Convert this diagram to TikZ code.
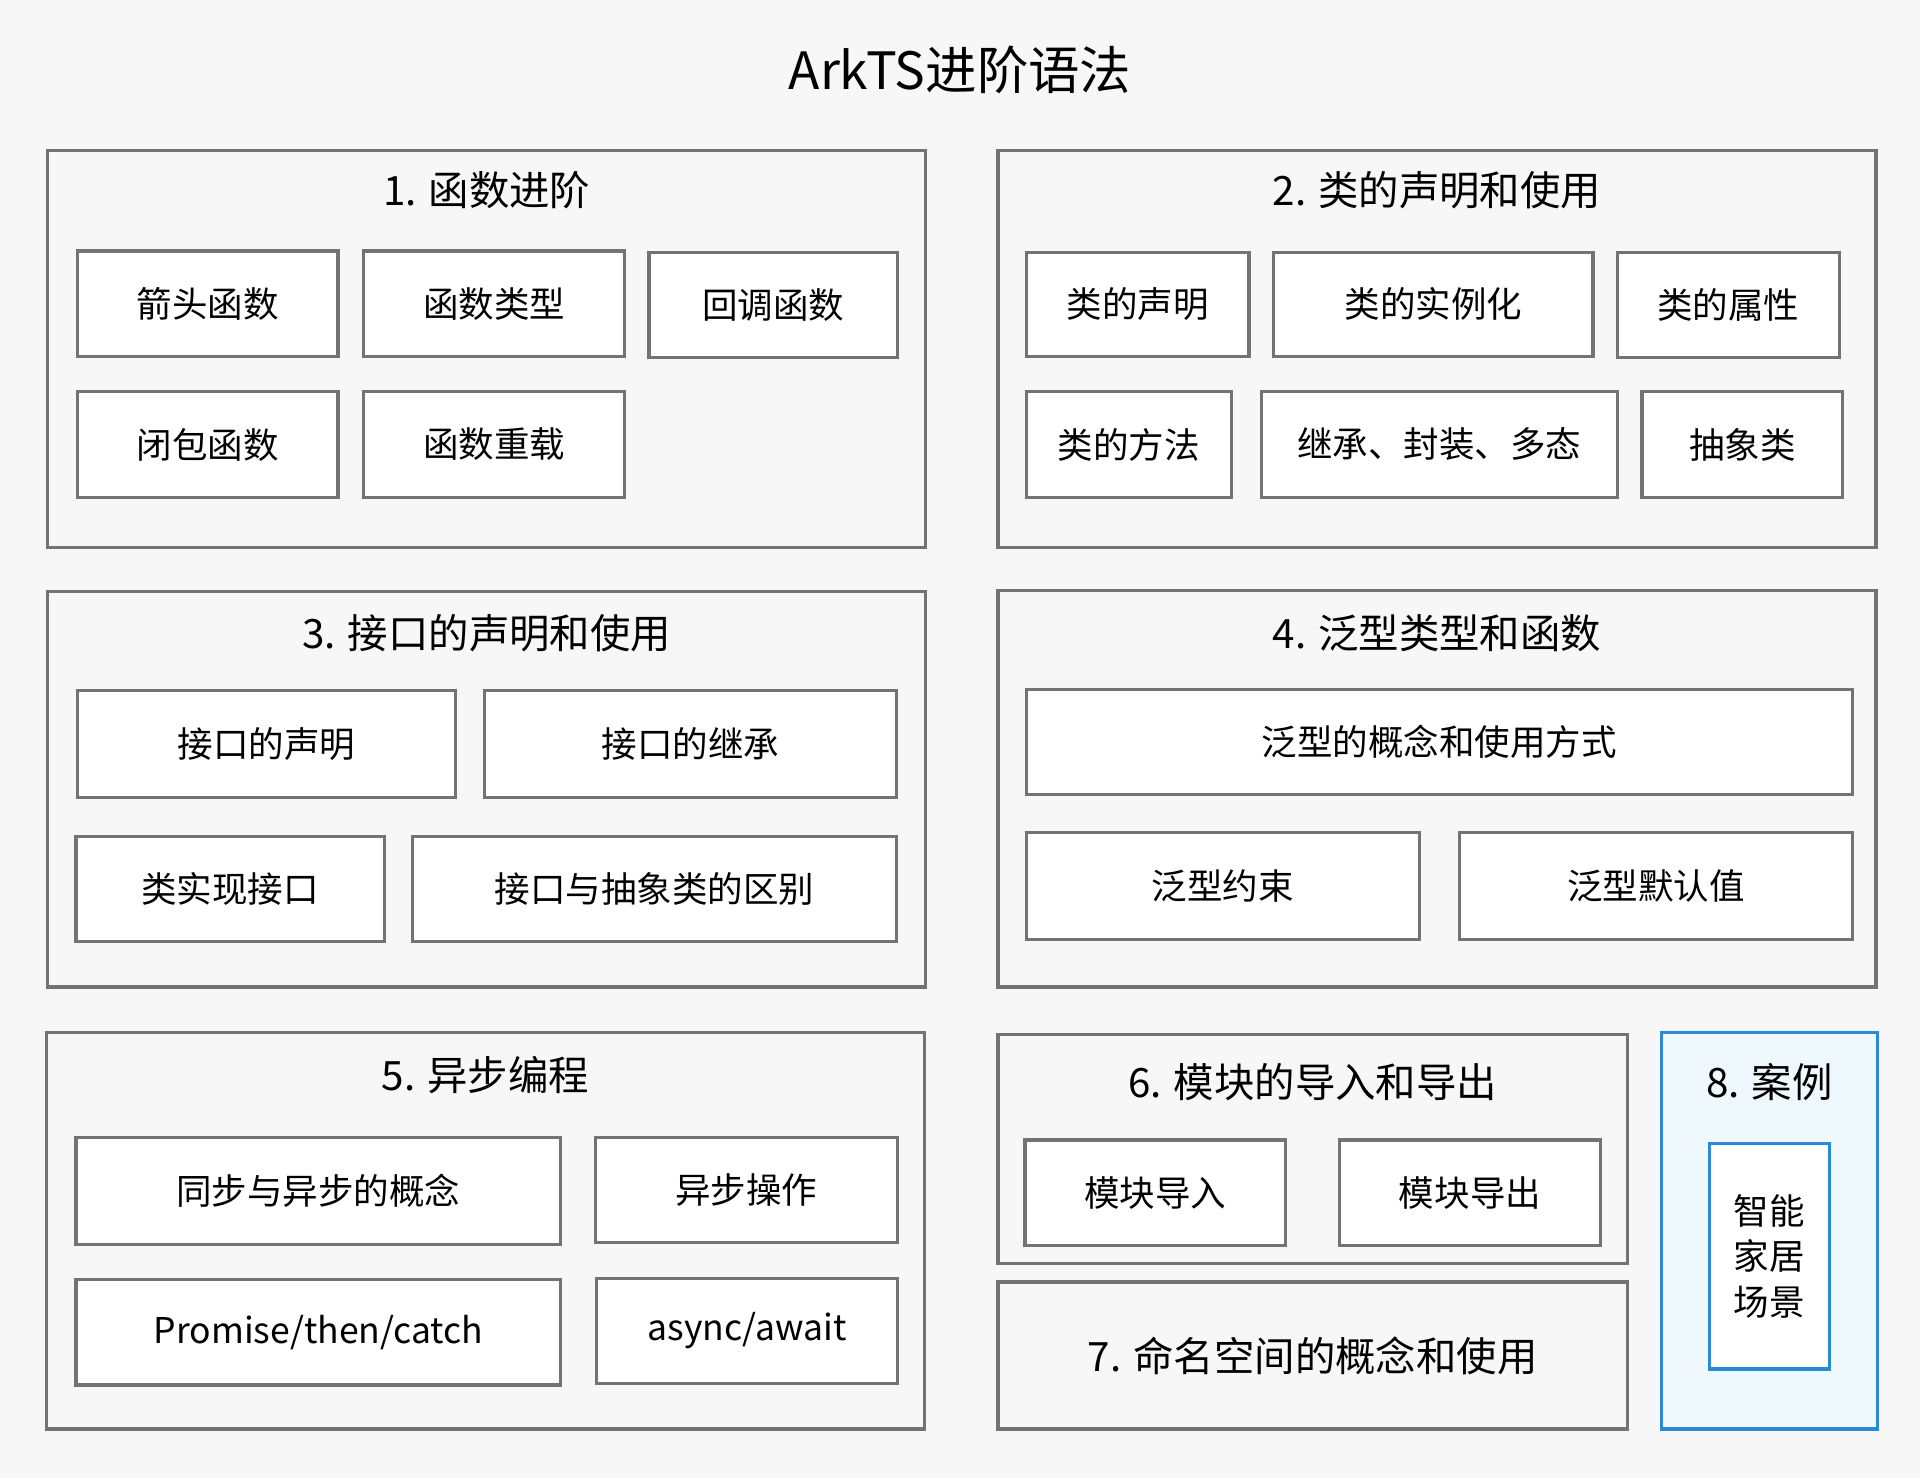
\documentclass[tikz,border=0pt]{standalone}
\usepackage{fontspec}
\setmainfont{Noto Sans CJK SC}
\definecolor{bg}{HTML}{F7F7F7}
\definecolor{edge}{HTML}{737373}
\definecolor{bluee}{HTML}{2A8AD8}
\definecolor{bluef}{HTML}{EEF8FD}
\tikzset{
 grp/.style={draw=edge,line width=2.6pt},
 item/.style={draw=edge,line width=2.6pt,fill=white},
 lbl/.style={font=\fontsize{29}{34}\selectfont,text=black},
 gtitle/.style={font=\fontsize{33}{38}\selectfont,text=black},
}
\newcommand{\bx}[6]{\draw[item] (#2,#3) rectangle (#4,#5);
 \node[lbl] (#1) at ({(#2+#4)/2},{(#3+#5)/2}) {#6};}
\newcommand{\grpbox}[7]{\draw[grp] (#2,#3) rectangle (#4,#5);
 \node[gtitle] (#1) at ({(#2+#4)/2},#6) {#7};}
\begin{document}
\begin{tikzpicture}[x=1pt,y=-1pt]
\fill[bg] (0,0) rectangle (1568,1207);
\useasboundingbox (0,0) rectangle (1568,1207);
\node[font=\fontsize{42}{48}\selectfont] (title) at (784,57) {ArkTS进阶语法};
\grpbox{g1}{39}{123}{756}{447}{155}{1. 函数进阶}
\bx{a1}{63}{205}{276}{291}{箭头函数}
\bx{a2}{297}{205}{510}{291}{函数类型}
\bx{a3}{530}{206}{733}{292}{回调函数}
\bx{a4}{63}{320}{276}{406}{闭包函数}
\bx{a5}{297}{320}{510}{406}{函数重载}
\grpbox{g2}{815}{123}{1532}{447}{155}{2. 类的声明和使用}
\bx{b1}{838}{206}{1020}{291}{类的声明}
\bx{b2}{1040}{206}{1301}{291}{类的实例化}
\bx{b3}{1321}{206}{1502}{292}{类的属性}
\bx{b4}{838}{320}{1006}{406}{类的方法}
\bx{b5}{1030}{320}{1321}{406}{继承、封装、多态}
\bx{b6}{1341}{320}{1505}{406}{抽象类}
\grpbox{g3}{39}{483}{756}{806}{517}{3. 接口的声明和使用}
\bx{c1}{63}{564}{372}{651}{接口的声明}
\bx{c2}{396}{564}{732}{651}{接口的继承}
\bx{c3}{62}{683}{314}{769}{类实现接口}
\bx{c4}{337}{683}{732}{769}{接口与抽象类的区别}
\grpbox{g4}{815}{482}{1532}{806}{517}{4. 泛型类型和函数}
\bx{d1}{838}{563}{1513}{649}{泛型的概念和使用方式}
\bx{d2}{838}{680}{1159}{767}{泛型约束}
\bx{d3}{1192}{680}{1513}{767}{泛型默认值}
\grpbox{g5}{38}{843}{755}{1167}{878}{5. 异步编程}
\bx{e1}{62}{929}{458}{1016}{同步与异步的概念}
\bx{e2}{486}{929}{733}{1015}{异步操作}
\bx{e3}{62}{1045}{458}{1131}{Promise/then/catch}
\bx{e4}{487}{1044}{733}{1130}{async/await}
\grpbox{g6}{815}{845}{1329}{1032}{884}{6. 模块的导入和导出}
\bx{f1}{837}{931}{1050}{1017}{模块导入}
\bx{f2}{1094}{931}{1307}{1017}{模块导出}
\grpbox{g7}{815}{1047}{1329}{1167}{1107}{7. 命名空间的概念和使用}
\draw[draw=bluee,fill=bluef,line width=2.6pt] (1357,843) rectangle (1533,1167);
\node[gtitle] (g8) at (1445,884) {8. 案例};
\draw[draw=bluee,fill=white,line width=2.6pt] (1396,934) rectangle (1494,1118);
\node[lbl,align=center,font=\fontsize{29}{37}\selectfont] (h1) at (1445,1026) {智能\\家居\\场景};
\end{tikzpicture}
\end{document}
